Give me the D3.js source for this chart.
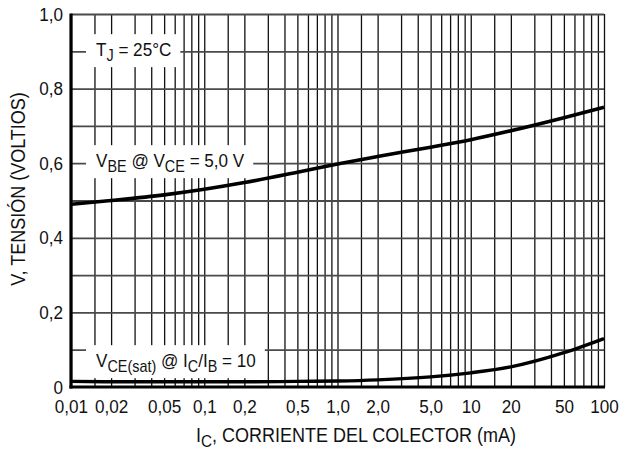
<!DOCTYPE html>
<html>
<head>
<meta charset="utf-8">
<script src="https://cdn.jsdelivr.net/npm/d3@7/dist/d3.min.js"></script>
<style>
  html, body { margin: 0; padding: 0; background: #fff; }
  svg { display: block; font-family: "Liberation Sans", Arial, sans-serif; }
</style>
</head>
<body>
<svg id="chart" width="624" height="452"></svg>
<script>
// Collector current (mA) and the two voltage curves (V)
const currentMA   = [0.01, 0.02, 0.05, 0.1, 0.2, 0.5, 1, 2, 5, 10, 20, 50, 100];
const vbeVolts    = [0.49, 0.50, 0.515, 0.53, 0.548, 0.576, 0.598, 0.618, 0.643, 0.663, 0.687, 0.722, 0.75];
const vceSatVolts = [0.015, 0.014, 0.014, 0.014, 0.014, 0.015, 0.016, 0.019, 0.027, 0.038, 0.054, 0.092, 0.13];

// Axis ticks and labels
const xTickValues = [0.01, 0.02, 0.05, 0.1, 0.2, 0.5, 1, 2, 5, 10, 20, 50, 100];
const xTickLabels = ["0,01", "0,02", "0,05", "0,1", "0,2", "0,5", "1,0", "2,0", "5,0", "10", "20", "50", "100"];
const yTickValues = [0, 0.2, 0.4, 0.6, 0.8, 1.0];
const yTickLabels = ["0", "0,2", "0,4", "0,6", "0,8", "1,0"];
const gridMultipliers = [1, 1.5, 2, 3, 4, 5, 6, 7, 8, 9];
const gridDecades = [0.01, 0.1, 1, 10];
const yGridValues = [0.1, 0.2, 0.3, 0.4, 0.5, 0.6, 0.7, 0.8, 0.9, 1.0];

// Condensed lettering: taller glyphs squeezed horizontally
const FS = 19, SUB = 16, SX = 0.9;

const svg = d3.select("#chart");
const L = 71, R = 604, T = 14, B = 387;

const x = d3.scaleLog().domain([0.01, 100]).range([L, R]);
const y = d3.scaleLinear().domain([0, 1]).range([B, T]);

// Vertical log grid
const xGrid = gridDecades.flatMap(d => gridMultipliers.map(m => +(d * m).toPrecision(3))).concat([100]);
svg.append("g")
  .attr("transform", `translate(0,${B})`)
  .call(d3.axisBottom(x).tickValues(xGrid).tickSize(-(B - T)).tickFormat(""))
  .call(g => g.select(".domain").remove())
  .call(g => g.selectAll("line").attr("stroke", "#111").attr("stroke-width", 1.3));

// Horizontal grid
svg.append("g")
  .attr("transform", `translate(${L},0)`)
  .call(d3.axisLeft(y).tickValues(yGridValues).tickSize(-(R - L)).tickFormat(""))
  .call(g => g.select(".domain").remove())
  .call(g => g.selectAll("line").attr("stroke", "#4a4a4a").attr("stroke-width", 1.8));

// Curves
const line = d3.line()
  .x(d => x(d[0]))
  .y(d => y(d[1]))
  .curve(d3.curveMonotoneX);

svg.append("path")
  .datum(currentMA.map((c, i) => [c, vbeVolts[i]]))
  .attr("d", line).attr("fill", "none").attr("stroke", "#000").attr("stroke-width", 3.6);

svg.append("path")
  .datum(currentMA.map((c, i) => [c, vceSatVolts[i]]))
  .attr("d", line).attr("fill", "none").attr("stroke", "#000").attr("stroke-width", 3.4);

// Text with subscripts; parts flagged sub drop below the baseline
function richText(sel, parts, size, subSize) {
  const t = sel.append("text").attr("font-size", size).attr("fill", "#111");
  let down = false;
  parts.forEach(p => {
    const ts = t.append("tspan").text(p.t);
    if (p.sub) { ts.attr("font-size", subSize); if (!down) ts.attr("dy", 5); down = true; }
    else if (down) { ts.attr("dy", -5); down = false; }
  });
  return t;
}

// In-plot labels with white backing boxes
function label(xPos, yBase, parts) {
  const g = svg.append("g").attr("transform", `translate(${xPos},${yBase}) scale(${SX},1)`);
  const rect = g.append("rect").attr("fill", "#fff");
  const t = richText(g, parts, FS, SUB);
  const bb = t.node().getBBox();
  rect.attr("x", bb.x - 10 / SX).attr("y", bb.y - 5)
    .attr("width", bb.width + 19 / SX).attr("height", bb.height + 8);
}

label(96, 56, [{t: "T"}, {t: "J", sub: true}, {t: " = 25°C"}]);
label(96, 167, [{t: "V"}, {t: "BE", sub: true}, {t: " @ V"}, {t: "CE", sub: true}, {t: " = 5,0 V"}]);
label(96, 367, [{t: "V"}, {t: "CE(sat)", sub: true}, {t: " @ I"}, {t: "C", sub: true}, {t: "/I"}, {t: "B", sub: true}, {t: " = 10"}]);

// Axis lines
svg.append("line").attr("x1", L).attr("x2", L).attr("y1", T - 0.5).attr("y2", B + 1.5)
  .attr("stroke", "#000").attr("stroke-width", 3.2);
svg.append("line").attr("x1", L - 1.5).attr("x2", R + 1).attr("y1", B).attr("y2", B)
  .attr("stroke", "#000").attr("stroke-width", 3.2);

// Tick labels
svg.append("g")
  .attr("transform", `translate(0,${B})`)
  .call(d3.axisBottom(x).tickValues(xTickValues).tickSize(0).tickPadding(13)
    .tickFormat((d, i) => xTickLabels[i]))
  .call(g => g.select(".domain").remove())
  .call(g => g.selectAll("text").attr("font-size", FS).attr("fill", "#111")
    .attr("font-family", "Liberation Sans, Arial, sans-serif")
    .attr("transform", `scale(${SX},1)`));

svg.append("g")
  .attr("transform", `translate(${L},0)`)
  .call(d3.axisLeft(y).tickValues(yTickValues).tickSize(0).tickPadding(9)
    .tickFormat((d, i) => yTickLabels[i]))
  .call(g => g.select(".domain").remove())
  .call(g => g.selectAll("text").attr("font-size", FS).attr("fill", "#111")
    .attr("font-family", "Liberation Sans, Arial, sans-serif")
    .attr("transform", `scale(${SX},1)`));

// Axis titles
const xtg = svg.append("g").attr("transform", `translate(356,442) scale(${SX},1)`);
richText(xtg, [{t: "I"}, {t: "C", sub: true}, {t: ", CORRIENTE DEL COLECTOR (mA)"}], 20, 17)
  .attr("text-anchor", "middle");

const ytg = svg.append("g").attr("transform", `translate(25,189) rotate(-90) scale(${SX},1)`);
ytg.append("text").attr("text-anchor", "middle").attr("font-size", 20).attr("fill", "#111")
  .text("V, TENSIÓN (VOLTIOS)");
</script>
</body>
</html>
